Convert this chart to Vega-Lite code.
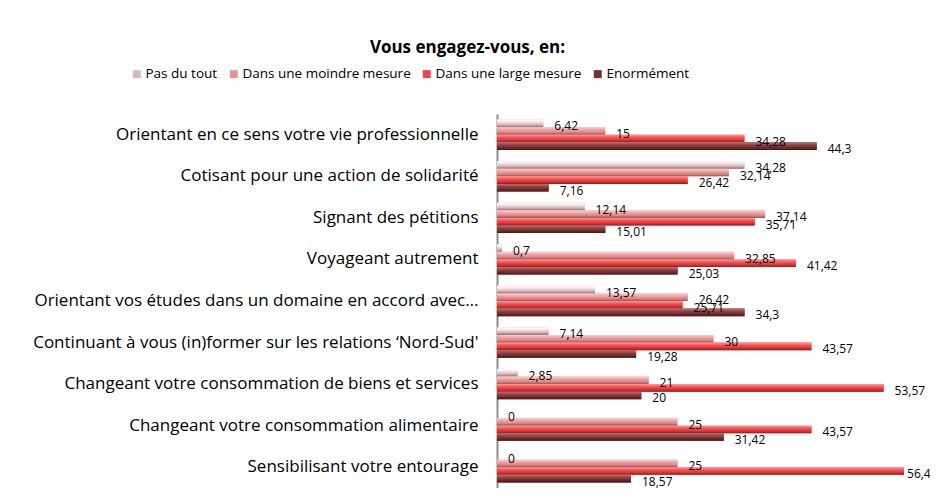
{
  "$schema": "https://vega.github.io/schema/vega-lite/v6.json",
  "width": 433,
  "height": 374,
  "autosize": {"type": "none"},
  "padding": {"left": 497, "top": 114, "right": 0, "bottom": 0},
  "background": "white",
  "config": {
    "view": {"stroke": null},
    "locale": {"number": {"decimal": ",", "thousands": " ", "grouping": [3], "currency": ["", " €"]}},
    "font": "Open Sans"
  },
  "title": {"text": "Vous engagez-vous, en:", "font": "Open Sans", "fontSize": 17, "fontWeight": "bold", "color": "#000", "anchor": "middle", "dx": -246, "offset": 10},
  "data": {"values": [
    {"item": "Orientant en ce sens votre vie professionnelle", "serie": "Pas du tout", "value": 6.42},
    {"item": "Orientant en ce sens votre vie professionnelle", "serie": "Dans une moindre mesure", "value": 15},
    {"item": "Orientant en ce sens votre vie professionnelle", "serie": "Dans une large mesure", "value": 34.28},
    {"item": "Orientant en ce sens votre vie professionnelle", "serie": "Enormément", "value": 44.3},
    {"item": "Cotisant pour une action de solidarité", "serie": "Pas du tout", "value": 34.28},
    {"item": "Cotisant pour une action de solidarité", "serie": "Dans une moindre mesure", "value": 32.14},
    {"item": "Cotisant pour une action de solidarité", "serie": "Dans une large mesure", "value": 26.42},
    {"item": "Cotisant pour une action de solidarité", "serie": "Enormément", "value": 7.16},
    {"item": "Signant des pétitions", "serie": "Pas du tout", "value": 12.14},
    {"item": "Signant des pétitions", "serie": "Dans une moindre mesure", "value": 37.14},
    {"item": "Signant des pétitions", "serie": "Dans une large mesure", "value": 35.71},
    {"item": "Signant des pétitions", "serie": "Enormément", "value": 15.01},
    {"item": "Voyageant autrement", "serie": "Pas du tout", "value": 0.7},
    {"item": "Voyageant autrement", "serie": "Dans une moindre mesure", "value": 32.85},
    {"item": "Voyageant autrement", "serie": "Dans une large mesure", "value": 41.42},
    {"item": "Voyageant autrement", "serie": "Enormément", "value": 25.03},
    {"item": "Orientant vos études dans un domaine en accord avec…", "serie": "Pas du tout", "value": 13.57},
    {"item": "Orientant vos études dans un domaine en accord avec…", "serie": "Dans une moindre mesure", "value": 26.42},
    {"item": "Orientant vos études dans un domaine en accord avec…", "serie": "Dans une large mesure", "value": 25.71},
    {"item": "Orientant vos études dans un domaine en accord avec…", "serie": "Enormément", "value": 34.3},
    {"item": "Continuant à vous (in)former sur les relations ‘Nord-Sud'", "serie": "Pas du tout", "value": 7.14},
    {"item": "Continuant à vous (in)former sur les relations ‘Nord-Sud'", "serie": "Dans une moindre mesure", "value": 30},
    {"item": "Continuant à vous (in)former sur les relations ‘Nord-Sud'", "serie": "Dans une large mesure", "value": 43.57},
    {"item": "Continuant à vous (in)former sur les relations ‘Nord-Sud'", "serie": "Enormément", "value": 19.28},
    {"item": "Changeant votre consommation de biens et services", "serie": "Pas du tout", "value": 2.85},
    {"item": "Changeant votre consommation de biens et services", "serie": "Dans une moindre mesure", "value": 21},
    {"item": "Changeant votre consommation de biens et services", "serie": "Dans une large mesure", "value": 53.57},
    {"item": "Changeant votre consommation de biens et services", "serie": "Enormément", "value": 20},
    {"item": "Changeant votre consommation alimentaire", "serie": "Pas du tout", "value": 0},
    {"item": "Changeant votre consommation alimentaire", "serie": "Dans une moindre mesure", "value": 25},
    {"item": "Changeant votre consommation alimentaire", "serie": "Dans une large mesure", "value": 43.57},
    {"item": "Changeant votre consommation alimentaire", "serie": "Enormément", "value": 31.42},
    {"item": "Sensibilisant votre entourage", "serie": "Pas du tout", "value": 0},
    {"item": "Sensibilisant votre entourage", "serie": "Dans une moindre mesure", "value": 25},
    {"item": "Sensibilisant votre entourage", "serie": "Dans une large mesure", "value": 56.4},
    {"item": "Sensibilisant votre entourage", "serie": "Enormément", "value": 18.57}
  ]},
  "encoding": {
    "y": {"field": "item", "type": "nominal", "sort": null, "title": null,
      "scale": {"paddingInner": 0.27, "paddingOuter": 0.135},
      "axis": {"domain": true, "domainColor": "#8c8c8c", "domainWidth": 2, "ticks": false, "labelPadding": 19, "labelFont": "Open Sans", "labelFontSize": 17, "labelColor": "#000", "labelLimit": 600, "grid": false}},
    "yOffset": {"field": "serie", "type": "nominal", "sort": ["Pas du tout", "Dans une moindre mesure", "Dans une large mesure", "Enormément"],
      "scale": {"domain": ["Pas du tout", "Dans une moindre mesure", "Dans une large mesure", "Enormément"], "paddingInner": 0, "paddingOuter": 0}},
    "x": {"field": "value", "type": "quantitative", "scale": {"domain": [0, 60], "nice": false, "zero": true}, "axis": null}
  },
  "layer": [
    {
      "mark": {"type": "bar"},
      "encoding": {
        "color": {"field": "serie", "type": "nominal",
          "scale": {"domain": ["Pas du tout", "Dans une moindre mesure", "Dans une large mesure", "Enormément"], "range": ["#d9b8b8", "#e39494", "#e84848", "#7a3030"]},
          "legend": {"orient": "none", "legendX": -367, "legendY": -47, "direction": "horizontal", "title": null, "symbolType": "square", "symbolSize": 64, "symbolStrokeWidth": 0, "labelFont": "Open Sans", "labelFontSize": 13.5, "labelColor": "#000", "columnPadding": 9, "labelOffset": 2, "labelLimit": 300}}
      }
    },
    {
      "transform": [{"filter": "datum.serie === 'Pas du tout'"}],
      "mark": {"type": "bar", "fill": {"gradient": "linear", "x1": 0, "y1": 0, "x2": 0, "y2": 1, "stops": [{"offset": 0, "color": "#ffffff"}, {"offset": 0.35, "color": "#f4e0e0"}, {"offset": 0.7, "color": "#d4b0b0"}, {"offset": 1, "color": "#8c6e6e"}]}}
    },
    {
      "transform": [{"filter": "datum.serie === 'Dans une moindre mesure'"}],
      "mark": {"type": "bar", "fill": {"gradient": "linear", "x1": 0, "y1": 0, "x2": 0, "y2": 1, "stops": [{"offset": 0, "color": "#fbd0d0"}, {"offset": 0.35, "color": "#eea4a4"}, {"offset": 0.7, "color": "#d88484"}, {"offset": 1, "color": "#9a5454"}]}}
    },
    {
      "transform": [{"filter": "datum.serie === 'Dans une large mesure'"}],
      "mark": {"type": "bar", "fill": {"gradient": "linear", "x1": 0, "y1": 0, "x2": 0, "y2": 1, "stops": [{"offset": 0, "color": "#ff9a9a"}, {"offset": 0.35, "color": "#f25656"}, {"offset": 0.7, "color": "#e03232"}, {"offset": 1, "color": "#8e2020"}]}}
    },
    {
      "transform": [{"filter": "datum.serie === 'Enormément'"}],
      "mark": {"type": "bar", "fill": {"gradient": "linear", "x1": 0, "y1": 0, "x2": 0, "y2": 1, "stops": [{"offset": 0, "color": "#b47676"}, {"offset": 0.35, "color": "#8e4444"}, {"offset": 0.7, "color": "#722a2a"}, {"offset": 1, "color": "#4a1414"}]}}
    },
    {
      "transform": [{"filter": "datum.value < 55"}],
      "mark": {"type": "text", "align": "left", "baseline": "middle", "dx": 11, "dy": 3, "font": "Open Sans", "fontSize": 12, "color": "#000"},
      "encoding": {"text": {"field": "value", "type": "quantitative", "format": ".4~r"}}
    },
    {
      "transform": [{"filter": "datum.value >= 55"}],
      "mark": {"type": "text", "align": "left", "baseline": "middle", "dx": 3, "dy": 3, "font": "Open Sans", "fontSize": 12, "color": "#000"},
      "encoding": {"text": {"field": "value", "type": "quantitative", "format": ".4~r"}}
    }
  ]
}
